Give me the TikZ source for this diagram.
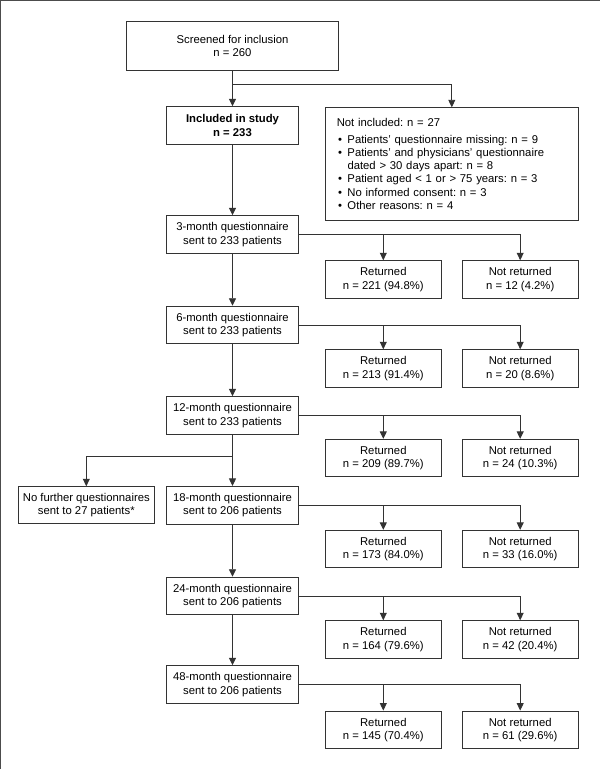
\documentclass[tikz,border=0pt]{standalone}
\usepackage{fontspec}
\setmainfont{Liberation Sans}
\usetikzlibrary{arrows.meta}
\frenchspacing
\newcommand{\bul}{\makebox[10.7pt][l]{\hspace*{1.2pt}\textbullet}}
\begin{document}
\begin{tikzpicture}[x=1pt,y=-1pt,
  box/.style={draw=black!80, line width=0.9pt, align=center, inner sep=0pt,
              font=\fontsize{11.3pt}{13.3pt}\selectfont},
  qbox/.style={box, minimum width=131.3pt, minimum height=37.6pt},
  rbox/.style={box, minimum width=116.2pt, minimum height=37.6pt},
  link/.style={draw=black!80, line width=0.9pt},
  arr/.style={link, -{Triangle[length=7.5pt,width=7pt]}},
  frame/.style={draw=black!70, line width=1.3pt}
]
\useasboundingbox (0,0) rectangle (600,769);
\draw[frame] (0.6,769) -- (0.6,0.6) -- (600,0.6);

% main column
\node[box, minimum width=212.4pt, minimum height=48.6pt] (scr) at (232.5,46) {Screened for inclusion\\n = 260};
\node[qbox, font=\fontsize{11.3pt}{13.3pt}\selectfont\bfseries] (inc) at (232.5,125.5) {Included in study\\n = 233};
\node[box, minimum width=253pt, minimum height=112.3pt, text width=230pt, align=left] (ninc) at (451.8,163.9)
  {\frenchspacing Not included: n = 27\\[3.4pt]
   \bul Patients’ questionnaire missing: n = 9\\
   \bul Patients’ and physicians’ questionnaire\\
   \hspace*{10.7pt}dated > 30 days apart: n = 8\\
   \bul Patient aged < 1 or > 75 years: n = 3\\
   \bul No informed consent: n = 3\\
   \bul Other reasons: n = 4};

\node[qbox] (q3)  at (232.5,234.5) {3-month questionnaire\\sent to 233 patients};
\node[qbox] (q6)  at (232.5,325.0) {6-month questionnaire\\sent to 233 patients};
\node[qbox] (q12) at (232.5,415.5) {12-month questionnaire\\sent to 233 patients};
\node[qbox] (q18) at (232.5,505.2) {18-month questionnaire\\sent to 206 patients};
\node[qbox] (q24) at (232.5,596.0) {24-month questionnaire\\sent to 206 patients};
\node[qbox] (q48) at (232.5,684.5) {48-month questionnaire\\sent to 206 patients};

\node[box, minimum width=135.8pt, minimum height=37pt] (nf) at (86.3,505.2) {No further questionnaires\\sent to 27 patients*};

% returned / not returned
\node[rbox] (r3)  at (383.3,279.5) {Returned\\n = 221 (94.8\%)};
\node[rbox] (n3)  at (520.2,279.5) {Not returned\\n = 12 (4.2\%)};
\node[rbox] (r6)  at (383.3,368.5) {Returned\\n = 213 (91.4\%)};
\node[rbox] (n6)  at (520.2,368.5) {Not returned\\n = 20 (8.6\%)};
\node[rbox] (r12) at (383.3,458.1) {Returned\\n = 209 (89.7\%)};
\node[rbox] (n12) at (520.2,458.1) {Not returned\\n = 24 (10.3\%)};
\node[rbox] (r18) at (383.3,549.1) {Returned\\n = 173 (84.0\%)};
\node[rbox] (n18) at (520.2,549.1) {Not returned\\n = 33 (16.0\%)};
\node[rbox] (r24) at (383.3,639.5) {Returned\\n = 164 (79.6\%)};
\node[rbox] (n24) at (520.2,639.5) {Not returned\\n = 42 (20.4\%)};
\node[rbox] (r48) at (383.3,729.8) {Returned\\n = 145 (70.4\%)};
\node[rbox] (n48) at (520.2,729.8) {Not returned\\n = 61 (29.6\%)};

% connectors
\coordinate (j1) at (232.5,84.3);
\draw[link] (scr) -- (j1);
\draw[arr] (j1) -- (inc);
\draw[arr] (j1) -| (ninc);
\draw[arr] (inc) -- (q3);
\draw[arr] (q3) -- (q6);
\draw[arr] (q6) -- (q12);
\coordinate (j2) at (232.5,456.7);
\draw[link] (q12) -- (j2);
\draw[arr] (j2) -- (q18);
\draw[arr] (j2) -| (nf);
\draw[arr] (q18) -- (q24);
\draw[arr] (q24) -- (q48);

\foreach \q/\r/\n in {q3/r3/n3, q6/r6/n6, q12/r12/n12, q18/r18/n18, q24/r24/n24, q48/r48/n48}{
  \draw[arr] (\q.east) -| (\r);
  \draw[arr] (\q.east) -| (\n);
}
\end{tikzpicture}
\end{document}
